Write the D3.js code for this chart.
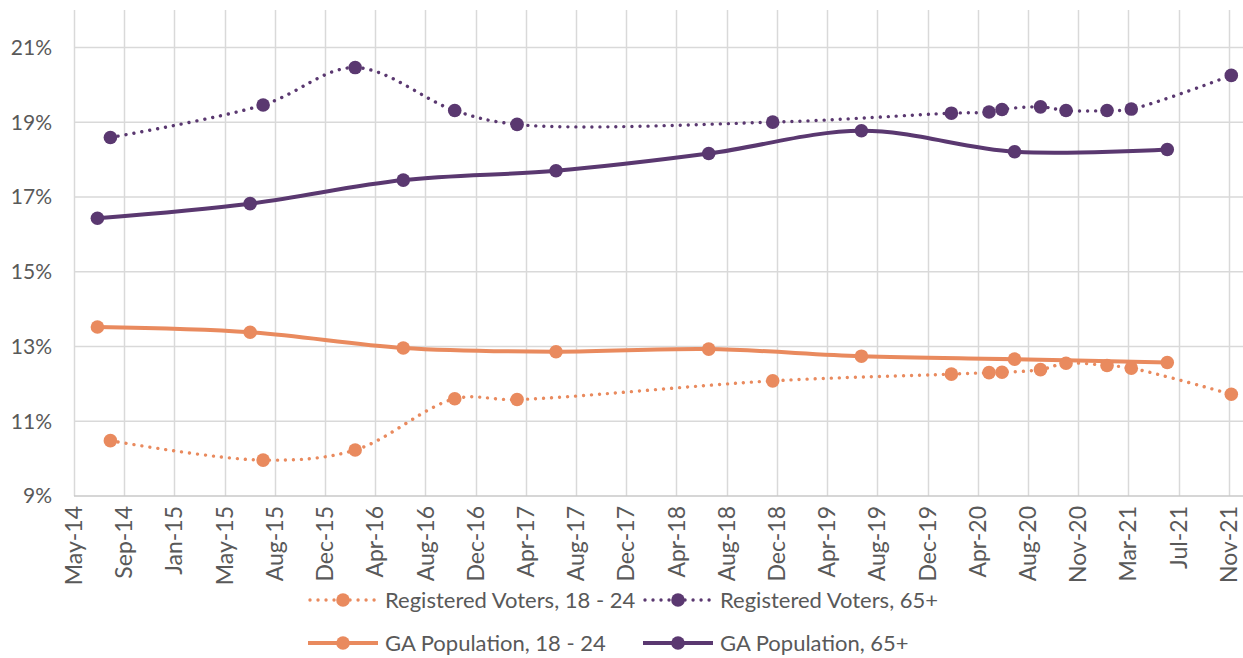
<!DOCTYPE html>
<html>
<head>
<meta charset="utf-8">
<script src="https://cdn.jsdelivr.net/npm/d3@7"></script>
<style>
  body { margin: 0; background: #fff; }
  svg { display: block; font-family: Lato, "Open Sans", sans-serif; }
  .tick-label { fill: #595959; font-size: 21px; }
  .x-label { fill: #595959; font-size: 23px; }
  .legend text { fill: #595959; font-size: 22px; }
</style>
</head>
<body>
<svg width="1243" height="658"></svg>
<script>
// population estimates, 1 July each year
const popDates = ['2014-07-01', '2015-07-01', '2016-07-01', '2017-07-01', '2018-07-01', '2019-07-01', '2020-07-01', '2021-07-01']
const pop1824 = [13.52, 13.38, 12.96, 12.86, 12.93, 12.74, 12.66, 12.57]
const pop65 = [16.43, 16.82, 17.45, 17.70, 18.16, 18.77, 18.21, 18.27]

// voter file snapshots
const regDates = ['2014-08-01', '2015-08-01', '2016-03-08', '2016-11-01', '2017-03-30', '2018-12-01', '2020-02-01',
    '2020-05-01', '2020-06-01', '2020-09-01', '2020-11-01', '2021-02-07', '2021-04-06', '2021-12-01']
const reg1824 = [10.48, 9.96, 10.23, 11.60, 11.58, 12.08, 12.26, 12.30, 12.31, 12.38, 12.55, 12.49, 12.42, 11.72]
const reg65 = [18.59, 19.46, 20.46, 19.31, 18.94, 19.00, 19.24, 19.27, 19.34, 19.41, 19.31, 19.31, 19.35, 20.25]

const yTicks = [9, 11, 13, 15, 17, 19, 21]
const seriesNames = ['Registered Voters, 18 - 24', 'Registered Voters, 65+', 'GA Population, 18 - 24', 'GA Population, 65+']

const orange = '#e98a5e'
const purple = '#5a3870'

const parse = d3.utcParse('%Y-%m-%d')
const axisStart = parse('2014-05-06')
const DAY = 864e5

const series = [
    { name: seriesNames[0], color: orange, dotted: true, dates: regDates, values: reg1824 },
    { name: seriesNames[1], color: purple, dotted: true, dates: regDates, values: reg65 },
    { name: seriesNames[2], color: orange, dotted: false, dates: popDates, values: pop1824 },
    { name: seriesNames[3], color: purple, dotted: false, dates: popDates, values: pop65 }
]
series.forEach(s => {
    s.points = s.dates.map((d, i) => ({ date: parse(d), value: s.values[i] }))
})

const svg = d3.select('svg')

const xScale = d3.scaleUtc()
    .domain([axisStart, new Date(+axisStart + 2794 * DAY)])
    .range([74, 1243])
const yScale = d3.scaleLinear()
    .domain([9, 22])
    .range([496, 10])

// date axis: one tick every 120 days, like the spreadsheet did
const xTicks = d3.range(0, 24).map(i => new Date(+axisStart + i * 120 * DAY))
const fmt = d3.utcFormat('%b-%y')

const grid = svg.append('g')
grid.selectAll('.vgrid').data(xTicks)
    .enter().append('line')
        .attr('x1', d => Math.round(xScale(d)) + 0.5)
        .attr('x2', d => Math.round(xScale(d)) + 0.5)
        .attr('y1', yScale(22))
        .attr('y2', yScale(9))
        .attr('stroke', '#d9d9d9')
        .attr('stroke-width', 1.5)
grid.selectAll('.hgrid').data(yTicks.slice(1))
    .enter().append('line')
        .attr('x1', 74)
        .attr('x2', 1243)
        .attr('y1', d => yScale(d))
        .attr('y2', d => yScale(d))
        .attr('stroke', '#d9d9d9')
        .attr('stroke-width', 1.5)
grid.append('line')
    .attr('x1', 74).attr('x2', 1243)
    .attr('y1', yScale(9)).attr('y2', yScale(9))
    .attr('stroke', '#c8c8c8')
    .attr('stroke-width', 1.5)

svg.append('g').selectAll('text').data(yTicks)
    .enter().append('text')
        .attr('class', 'tick-label')
        .attr('x', 52)
        .attr('y', d => yScale(d))
        .attr('dy', '0.35em')
        .attr('text-anchor', 'end')
        .text(d => d + '%')

svg.append('g').selectAll('text').data(xTicks)
    .enter().append('text')
        .attr('class', 'x-label')
        .attr('transform', d => `translate(${xScale(d)},506) rotate(-90)`)
        .attr('dy', '0.35em')
        .attr('text-anchor', 'end')
        .text(fmt)

const line = d3.line()
    .x(d => xScale(d.date))
    .y(d => yScale(d.value))
    .curve(d3.curveCatmullRom.alpha(0.5))

const drawOrder = [series[2], series[3], series[0], series[1]]
drawOrder.forEach(s => {
    const g = svg.append('g')
    g.append('path')
        .datum(s.points)
        .attr('d', line)
        .attr('fill', 'none')
        .attr('stroke', s.color)
        .attr('stroke-width', s.dotted ? 3.4 : 4)
        .attr('stroke-linecap', 'round')
        .attr('stroke-dasharray', s.dotted ? '0.01 8' : null)
    g.selectAll('circle').data(s.points)
        .enter().append('circle')
            .attr('cx', d => xScale(d.date))
            .attr('cy', d => yScale(d.value))
            .attr('r', 6.8)
            .attr('fill', s.color)
})

// legend, two rows
const legendPos = [[308, 600], [643, 600], [308, 643], [643, 643]]
const legend = svg.append('g').attr('class', 'legend')
series.forEach((s, i) => {
    const [lx, ly] = legendPos[i]
    const g = legend.append('g').attr('transform', `translate(${lx},${ly})`)
    g.append('line')
        .attr('x1', s.dotted ? 2 : 0)
        .attr('x2', 70)
        .attr('stroke', s.color)
        .attr('stroke-width', s.dotted ? 3.4 : 4)
        .attr('stroke-linecap', s.dotted ? 'round' : 'butt')
        .attr('stroke-dasharray', s.dotted ? '0.01 8' : null)
    g.append('circle')
        .attr('cx', 35)
        .attr('r', 6.8)
        .attr('fill', s.color)
    g.append('text')
        .attr('x', 77)
        .attr('dy', '0.35em')
        .text(s.name)
})
</script>
</body>
</html>
